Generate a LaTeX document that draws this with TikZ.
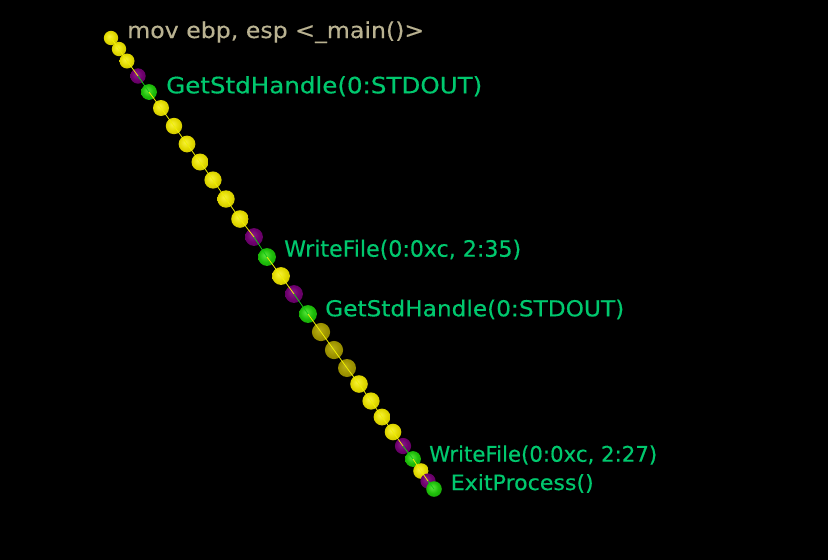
\documentclass[tikz,border=0pt]{standalone}
\usepackage{fontspec}
\setmainfont{DejaVu Sans}
\newfontfamily\lblfont{DejaVu Sans}[FakeBold=0.4]
\usepackage{graphicx}
\definecolor{yhi}{RGB}{248,242,60}
\definecolor{ybase}{RGB}{226,218,0}
\definecolor{ydark}{RGB}{165,155,0}
\definecolor{ohi}{RGB}{185,175,25}
\definecolor{obase}{RGB}{158,148,0}
\definecolor{odark}{RGB}{110,100,0}
\definecolor{phi}{RGB}{140,30,140}
\definecolor{pbase}{RGB}{110,0,110}
\definecolor{pdark}{RGB}{70,0,70}
\definecolor{ghi}{RGB}{90,230,60}
\definecolor{gbase}{RGB}{30,190,10}
\definecolor{gdark}{RGB}{10,125,0}
\definecolor{lblgreen}{RGB}{0,200,110}
\definecolor{lblgray}{RGB}{185,178,145}
\definecolor{lineyellow}{RGB}{240,240,0}
\definecolor{linegreen}{RGB}{20,200,20}
\pgfdeclareradialshading{ysph}{\pgfpoint{-6bp}{6bp}}{color(0bp)=(yhi); color(18bp)=(ybase); color(52bp)=(ydark)}
\pgfdeclareradialshading{osph}{\pgfpoint{-6bp}{6bp}}{color(0bp)=(ohi); color(18bp)=(obase); color(52bp)=(odark)}
\pgfdeclareradialshading{psph}{\pgfpoint{-6bp}{6bp}}{color(0bp)=(phi); color(18bp)=(pbase); color(52bp)=(pdark)}
\pgfdeclareradialshading{gsph}{\pgfpoint{-6bp}{6bp}}{color(0bp)=(ghi); color(18bp)=(gbase); color(52bp)=(gdark)}
\newcommand\fitw[2]{\resizebox{#1}{\height}{#2}}
\tikzset{
  ball/.style={circle, inner sep=0pt, draw=none, shading=#1},
  yl/.style={draw=lineyellow, line width=0.8pt},
  gl/.style={draw=linegreen, line width=0.8pt},
  lbl/.style={anchor=base west, inner sep=0pt, text=lblgreen},
  lblg/.style={anchor=base west, inner sep=0pt, text=lblgray},
}
\begin{document}
\begin{tikzpicture}[x=1pt,y=-1pt]
\fill[black] (0,0) rectangle (828,560);
\useasboundingbox (0,0) rectangle (828,560);
% balls
\node[ball=ysph, minimum size=14.4pt] (b1) at (111,38) {};
\node[ball=ysph, minimum size=14.4pt] (b2) at (119,49) {};
\node[ball=ysph, minimum size=15pt] (b3) at (127,61) {};
\node[ball=psph, minimum size=15.4pt] (b4) at (138,76) {};
\node[ball=gsph, minimum size=15.8pt] (b5) at (149,92) {};
\node[ball=ysph, minimum size=16pt] (b6) at (161,108) {};
\node[ball=ysph, minimum size=16.4pt] (b7) at (174,126) {};
\node[ball=ysph, minimum size=16.8pt] (b8) at (187,144) {};
\node[ball=ysph, minimum size=17pt] (b9) at (200,162) {};
\node[ball=ysph, minimum size=17.2pt] (b10) at (213,180) {};
\node[ball=ysph, minimum size=17.4pt] (b11) at (226,199) {};
\node[ball=ysph, minimum size=17.6pt] (b12) at (240,219) {};
\node[ball=psph, minimum size=17.8pt] (b13) at (254,237) {};
\node[ball=gsph, minimum size=17.8pt] (b14) at (267,257) {};
\node[ball=ysph, minimum size=17.8pt] (b15) at (281,276) {};
\node[ball=psph, minimum size=17.8pt] (b16) at (294,294) {};
\node[ball=gsph, minimum size=17.8pt] (b17) at (308,314) {};
\node[ball=osph, minimum size=18.2pt] (b18) at (321,332) {};
\node[ball=osph, minimum size=18.2pt] (b19) at (334,350) {};
\node[ball=osph, minimum size=18pt] (b20) at (347,368) {};
\node[ball=ysph, minimum size=17.6pt] (b21) at (359,384) {};
\node[ball=ysph, minimum size=17.2pt] (b22) at (371,401) {};
\node[ball=ysph, minimum size=16.8pt] (b23) at (382,417) {};
\node[ball=ysph, minimum size=16.6pt] (b24) at (393,432) {};
\node[ball=psph, minimum size=16.2pt] (b25) at (403,446) {};
\node[ball=gsph, minimum size=15.8pt] (b26) at (413,459) {};
\node[ball=ysph, minimum size=15.6pt] (b27) at (421,471) {};
\node[ball=psph, minimum size=15.2pt] (b28) at (428,481) {};
\node[ball=gsph, minimum size=15.6pt] (b29) at (434,489) {};
% connecting line
\foreach \a/\b/\s in {1/2/yl,2/3/yl,3/4/yl,4/5/gl,5/6/yl,6/7/yl,7/8/yl,8/9/yl,9/10/yl,10/11/yl,11/12/yl,12/13/yl,13/14/gl,14/15/yl,15/16/yl,16/17/gl,17/18/yl,18/19/yl,19/20/yl,20/21/yl,21/22/yl,22/23/yl,23/24/yl,24/25/yl,25/26/gl,26/27/yl,27/28/yl,28/29/gl}
  \draw[\s] (b\a.center) -- (b\b.center);
% labels
\node[lblg, font=\lblfont\fontsize{22}{22}\selectfont] (t1) at (127,38) {\fitw{297pt}{mov ebp, esp <\_main()>}};
\node[lbl, font=\lblfont\fontsize{22.5}{22.5}\selectfont] (t2) at (166,93.3) {\fitw{316pt}{GetStdHandle(0:STDOUT)}};
\node[lbl, font=\lblfont\fontsize{22.5}{22.5}\selectfont] (t3) at (284,256.7) {\fitw{237pt}{WriteFile(0:0xc, 2:35)}};
\node[lbl, font=\lblfont\fontsize{22}{22}\selectfont] (t4) at (325,316.3) {\fitw{299pt}{GetStdHandle(0:STDOUT)}};
\node[lbl, font=\lblfont\fontsize{21.5}{21.5}\selectfont] (t5) at (429,461.7) {\fitw{228pt}{WriteFile(0:0xc, 2:27)}};
\node[lbl, font=\lblfont\fontsize{21}{21}\selectfont] (t6) at (450.5,490) {\fitw{143pt}{ExitProcess()}};
\end{tikzpicture}
\end{document}
